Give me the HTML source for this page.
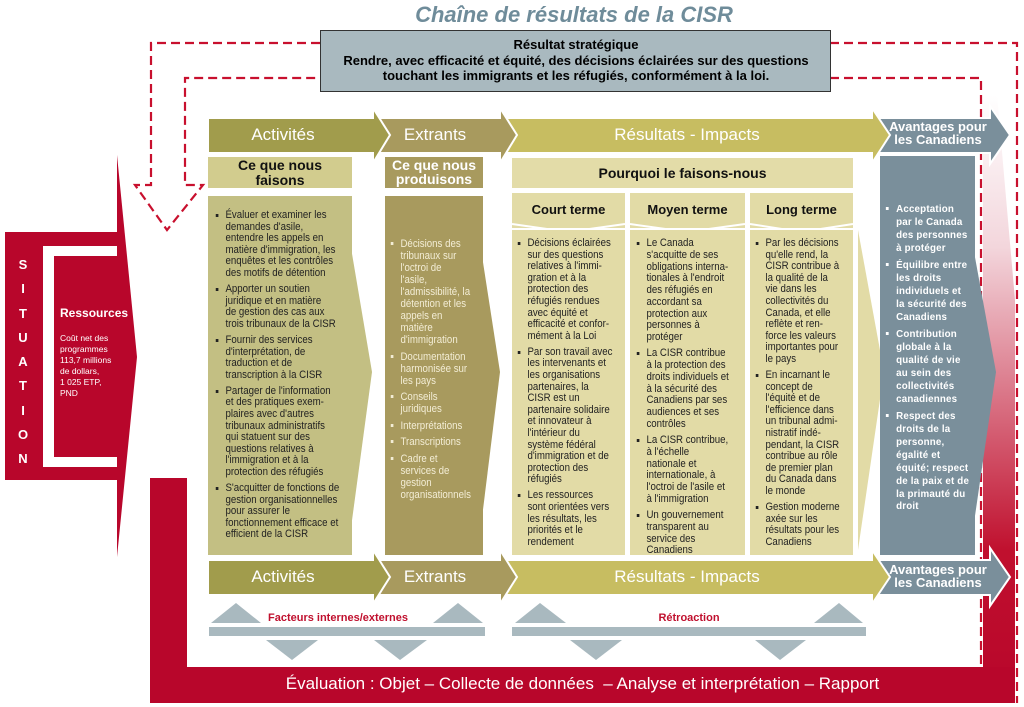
<!DOCTYPE html>
<html><head><meta charset="utf-8">
<style>
body{margin:0;width:1024px;height:707px;background:#fff;position:relative;overflow:hidden;font-family:"Liberation Sans",Arial,sans-serif;}
.a{position:absolute;}
.t{position:absolute;font-size:11px;line-height:11.6px;color:#222;white-space:nowrap;transform:scaleX(0.88);transform-origin:0 0;}
.t ul{margin:0;padding:0;list-style:none;}
.t li{position:relative;padding-left:13px;margin-bottom:4.5px;}
.t li:before{content:"";position:absolute;left:2px;top:4px;width:3px;height:3px;background:currentColor;}
.lbl{position:absolute;color:#fff;text-align:center;}
</style></head><body>
<svg class="a" style="left:0;top:0" width="1024" height="707">
<defs>
<linearGradient id="g" x1="0" y1="0" x2="0" y2="1">
<stop offset="0" stop-color="#fff"/><stop offset="0.25" stop-color="#f3d6dc"/><stop offset="0.75" stop-color="#c0102e"/><stop offset="1" stop-color="#b8062b"/></linearGradient>
</defs>
<polygon points="983,95 997,95 1015,300 1015,703 983,703" fill="url(#g)"/>
<rect x="150" y="478" width="37" height="225" fill="#b8062b"/>
<rect x="150" y="667" width="865" height="36" fill="#b8062b"/>
<polygon points="117,155 137,357 117,557" fill="#b8062b"/>
<rect x="5" y="232" width="113" height="248" fill="#b8062b"/>
<rect x="43" y="246" width="74" height="221" fill="#fff"/>
<rect x="54" y="256" width="64" height="201" fill="#b8062b"/>
<g fill="none" stroke="#c8102e" stroke-width="2.2" stroke-dasharray="9,5">
<path d="M320,43 H151 V185 H135 L167,230 L203,185 H185 V78 H320"/>
<path d="M830,43 H1017 V703"/>
<path d="M830,78 H981 V667"/>
</g>
<rect x="320.5" y="30.5" width="510" height="61" fill="#a9b9bf" stroke="#333" stroke-width="1"/>
<polygon points="348,230 372,372 348,550" fill="#c3bf83"/>
<polygon points="478,230 500,372 478,550" fill="#a89a5e"/>
<polygon points="858,230 884,372 858,550" fill="#e2dba6"/>
<polygon points="970,230 996,372 970,550" fill="#7a8f9b"/>
<g stroke="#fff" stroke-width="2">
<polygon points="872,118 990,118 990,106 1010,135 990,164 990,153 872,153" fill="#7a8f9b"/>
<polygon points="500,118 872,118 872,108 890,135 872,163 872,153 500,153" fill="#c7bd61"/>
<polygon points="372,118 500,118 500,108 517,135 500,163 500,153 372,153" fill="#a89a5e"/>
<polygon points="208,118 373,118 373,108 390,135 373,163 373,153 208,153" fill="#a19c4c"/>
</g>
<g stroke="#fff" stroke-width="2">
<polygon points="872,560 990,560 990,548 1010,577 990,606 990,595 872,595" fill="#7a8f9b"/>
<polygon points="500,560 872,560 872,550 890,577 872,604 872,595 500,595" fill="#c7bd61"/>
<polygon points="372,560 500,560 500,550 517,577 500,604 500,595 372,595" fill="#a89a5e"/>
<polygon points="208,560 373,560 373,550 390,577 373,604 373,595 208,595" fill="#a19c4c"/>
</g>
<rect x="208" y="157" width="144" height="31" fill="#d2cc8e"/>
<rect x="208" y="196" width="144" height="359" fill="#c3bf83"/>
<rect x="385" y="157" width="98" height="31" fill="#a89a5e"/>
<rect x="385" y="196" width="98" height="359" fill="#a89a5e"/>
<rect x="512" y="158" width="341" height="30" fill="#e3dca8"/>
<rect x="512" y="193" width="113" height="35" fill="#e2dba6"/>
<rect x="630" y="193" width="115" height="35" fill="#e2dba6"/>
<rect x="750" y="193" width="103" height="35" fill="#e2dba6"/>
<g stroke="#fff" stroke-width="2" fill="none">
<path d="M512,224 L568,232 L625,224"/><path d="M630,224 L687,232 L745,224"/><path d="M750,224 L801,232 L853,224"/>
</g>
<rect x="512" y="230" width="113" height="325" fill="#e2dba6"/>
<rect x="630" y="230" width="115" height="325" fill="#e2dba6"/>
<rect x="750" y="230" width="103" height="325" fill="#e2dba6"/>
<rect x="880" y="156" width="95" height="399" fill="#7a8f9b"/>
<g fill="#a9b9bf">
<polygon points="211,623 236,603 261,623"/><polygon points="433,623 458,603 483,623"/>
<polygon points="515,623 540,603 566,623"/><polygon points="814,623 839,603 863,623"/>
<rect x="209" y="627" width="276" height="9"/><rect x="512" y="627" width="354" height="9"/>
<polygon points="266,640 318,640 292,660"/><polygon points="374,640 427,640 400,660"/>
<polygon points="570,640 622,640 596,660"/><polygon points="755,640 806,640 780,660"/>
</g>
</svg>

<div class="a" style="left:0;width:1148px;top:2px;text-align:center;font:italic bold 22px 'Liberation Sans',sans-serif;color:#6f8c9a;">Chaîne de résultats de la CISR</div>
<div class="a" style="left:321px;width:510px;top:37px;text-align:center;font-size:13px;line-height:15.5px;color:#000;font-weight:bold;">Résultat stratégique<br>Rendre, avec efficacité et équité, des décisions éclairées sur des questions<br>touchant les immigrants et les réfugiés, conformément à la loi.</div>

<div class="a" style="left:15px;top:253px;width:16px;text-align:center;color:#fff;font-weight:bold;font-size:13px;line-height:24.3px;">S<br>I<br>T<br>U<br>A<br>T<br>I<br>O<br>N</div>
<div class="a" style="left:60px;top:306px;color:#fff;font-weight:bold;font-size:12px;">Ressources</div>
<div class="a" style="left:60px;top:333px;color:#fff;font-size:8.5px;line-height:11px;">Coût net des<br>programmes<br>113,7 millions<br>de dollars,<br>1 025 ETP,<br>PND</div>

<div class="lbl" style="left:208px;width:150px;top:125px;font-size:17px;">Activités</div>
<div class="lbl" style="left:385px;width:100px;top:125px;font-size:17px;">Extrants</div>
<div class="lbl" style="left:512px;width:350px;top:125px;font-size:17px;">Résultats - Impacts</div>
<div class="lbl" style="left:876px;width:124px;top:120px;font-size:13px;line-height:13px;font-weight:bold;">Avantages pour<br>les Canadiens</div>
<div class="lbl" style="left:208px;width:150px;top:567px;font-size:17px;">Activités</div>
<div class="lbl" style="left:385px;width:100px;top:567px;font-size:17px;">Extrants</div>
<div class="lbl" style="left:512px;width:350px;top:567px;font-size:17px;">Résultats - Impacts</div>
<div class="lbl" style="left:876px;width:124px;top:563px;font-size:13px;line-height:13px;font-weight:bold;">Avantages pour<br>les Canadiens</div>

<div class="a" style="left:208px;width:144px;top:158px;text-align:center;font-weight:bold;font-size:14px;line-height:15px;color:#111;">Ce que nous<br>faisons</div>
<div class="a" style="left:385px;width:98px;top:158px;text-align:center;font-weight:bold;font-size:14px;line-height:14px;color:#fff;">Ce que nous<br>produisons</div>
<div class="a" style="left:512px;width:341px;top:165px;text-align:center;font-weight:bold;font-size:14px;color:#111;">Pourquoi le faisons-nous</div>
<div class="a" style="left:512px;width:113px;top:202px;text-align:center;font-weight:bold;font-size:13px;color:#111;">Court terme</div>
<div class="a" style="left:630px;width:115px;top:202px;text-align:center;font-weight:bold;font-size:13px;color:#111;">Moyen terme</div>
<div class="a" style="left:750px;width:103px;top:202px;text-align:center;font-weight:bold;font-size:13px;color:#111;">Long terme</div>

<div class="t" style="left:214px;top:210px;"><ul>
<li>Évaluer et examiner les<br>demandes d'asile,<br>entendre les appels en<br>matière d'immigration, les<br>enquêtes et les contrôles<br>des motifs de détention</li>
<li>Apporter un soutien<br>juridique et en matière<br>de gestion des cas aux<br>trois tribunaux de la CISR</li>
<li>Fournir des services<br>d'interprétation, de<br>traduction et de<br>transcription à la CISR</li>
<li>Partager de l'information<br>et des pratiques exem-<br>plaires avec d'autres<br>tribunaux administratifs<br>qui statuent sur des<br>questions relatives à<br>l'immigration et à la<br>protection des réfugiés</li>
<li>S'acquitter de fonctions de<br>gestion organisationnelles<br>pour assurer le<br>fonctionnement efficace et<br>efficient de la CISR</li></ul></div>

<div class="t" style="left:389px;top:238px;color:#f3edd5;line-height:12px;"><ul>
<li>Décisions des<br>tribunaux sur<br>l'octroi de<br>l'asile,<br>l'admissibilité, la<br>détention et les<br>appels en<br>matière<br>d'immigration</li>
<li>Documentation<br>harmonisée sur<br>les pays</li>
<li>Conseils<br>juridiques</li>
<li>Interprétations</li>
<li>Transcriptions</li>
<li>Cadre et<br>services de<br>gestion<br>organisationnels</li></ul></div>

<div class="t" style="left:516px;top:238px;"><ul>
<li>Décisions éclairées<br>sur des questions<br>relatives à l'immi-<br>gration et à la<br>protection des<br>réfugiés rendues<br>avec équité et<br>efficacité et confor-<br>mément à la Loi</li>
<li>Par son travail avec<br>les intervenants et<br>les organisations<br>partenaires, la<br>CISR est un<br>partenaire solidaire<br>et innovateur à<br>l'intérieur du<br>système fédéral<br>d'immigration et de<br>protection des<br>réfugiés</li>
<li>Les ressources<br>sont orientées vers<br>les résultats, les<br>priorités et le<br>rendement</li></ul></div>

<div class="t" style="left:635px;top:238px;line-height:11.75px;"><ul>
<li>Le Canada<br>s'acquitte de ses<br>obligations interna-<br>tionales à l'endroit<br>des réfugiés en<br>accordant sa<br>protection aux<br>personnes à<br>protéger</li>
<li>La CISR contribue<br>à la protection des<br>droits individuels et<br>à la sécurité des<br>Canadiens par ses<br>audiences et ses<br>contrôles</li>
<li>La CISR contribue,<br>à l'échelle<br>nationale et<br>internationale, à<br>l'octroi de l'asile et<br>à l'immigration</li>
<li>Un gouvernement<br>transparent au<br>service des<br>Canadiens</li></ul></div>

<div class="t" style="left:754px;top:238px;"><ul>
<li>Par les décisions<br>qu'elle rend, la<br>CISR contribue à<br>la qualité de la<br>vie dans les<br>collectivités du<br>Canada, et elle<br>reflète et ren-<br>force les valeurs<br>importantes pour<br>le pays</li>
<li>En incarnant le<br>concept de<br>l'équité et de<br>l'efficience dans<br>un tribunal admi-<br>nistratif indé-<br>pendant, la CISR<br>contribue au rôle<br>de premier plan<br>du Canada dans<br>le monde</li>
<li>Gestion moderne<br>axée sur les<br>résultats pour les<br>Canadiens</li></ul></div>

<div class="t" style="left:884px;top:203px;color:#fff;font-weight:bold;font-size:10.5px;line-height:12.9px;letter-spacing:0.2px;transform:scaleX(0.93);"><ul>
<li>Acceptation<br>par le Canada<br>des personnes<br>à protéger</li>
<li>Équilibre entre<br>les droits<br>individuels et<br>la sécurité des<br>Canadiens</li>
<li>Contribution<br>globale à la<br>qualité de vie<br>au sein des<br>collectivités<br>canadiennes</li>
<li>Respect des<br>droits de la<br>personne,<br>égalité et<br>équité; respect<br>de la paix et de<br>la primauté du<br>droit</li></ul></div>

<div class="a" style="left:268px;top:612px;color:#c0102e;font-weight:bold;font-size:11px;">Facteurs internes/externes</div>
<div class="a" style="left:512px;width:354px;text-align:center;top:612px;color:#c0102e;font-weight:bold;font-size:11px;">Rétroaction</div>
<div class="a" style="left:150px;width:865px;top:674px;text-align:center;color:#fff;font-size:17px;">Évaluation : Objet – Collecte de données &nbsp;– Analyse et interprétation – Rapport</div>
</body></html>
